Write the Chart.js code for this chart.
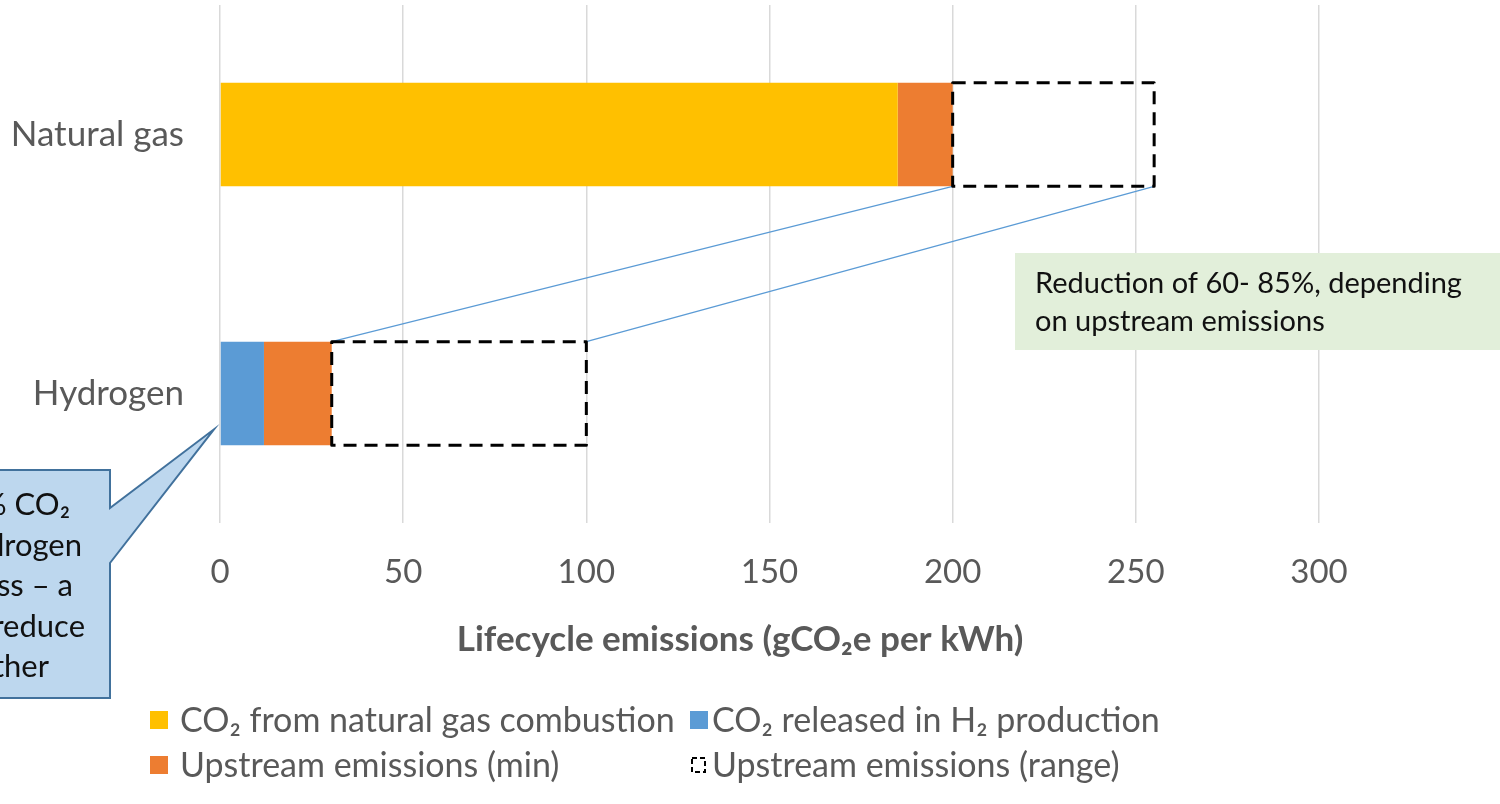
<!DOCTYPE html>
<html>
<head>
<meta charset="utf-8">
<script src="https://cdn.jsdelivr.net/npm/chart.js@4"></script>
<style>
  html, body { margin: 0; padding: 0; background: #fff; overflow: hidden; }
  #wrap { position: relative; width: 1500px; height: 804px; }
</style>
</head>
<body>
<div id="wrap"><canvas id="chartEmisi"></canvas></div>
<script>
const categories = ['Natural gas', 'Hydrogen'];
const gasCombustion = [185, null];
const h2Production = [null, 12];
const upstreamMin = [15, 18.5];
const upstreamRange = [55, 69.5];
const xMin = 0, xMax = 300, xStep = 50;

const seriesNames = [
  'CO₂ from natural gas combustion',
  'CO₂ released in H₂ production',
  'Upstream emissions (min)',
  'Upstream emissions (range)'
];

const FONT = "Lato, 'Open Sans', sans-serif";
const GREY = '#595959';

// dashed boxes, connector lines, callouts, axis title and legend
const extras = {
  id: 'extras',
  afterDatasetsDraw(chart) {
    const ctx = chart.ctx;
    const rangeBars = chart.getDatasetMeta(3).data.map(el =>
      el.getProps(['x', 'y', 'base', 'height'], true));

    // connector lines natural gas -> hydrogen
    const a = rangeBars[0], b = rangeBars[1];
    ctx.save();
    ctx.strokeStyle = '#5B9BD5';
    ctx.lineWidth = 1.2;
    ctx.beginPath();
    ctx.moveTo(a.base, a.y + a.height / 2);
    ctx.lineTo(b.base, b.y - b.height / 2);
    ctx.moveTo(a.x, a.y + a.height / 2);
    ctx.lineTo(b.x, b.y - b.height / 2);
    ctx.stroke();
    ctx.restore();

    // dashed outline of range
    ctx.save();
    ctx.strokeStyle = '#000';
    ctx.lineWidth = 3;
    ctx.lineJoin = 'round';
    ctx.setLineDash([13, 8]);
    rangeBars.forEach(r => {
      ctx.strokeRect(r.base, r.y - r.height / 2, r.x - r.base, r.height);
    });
    ctx.restore();
  },
  afterDraw(chart) {
    const ctx = chart.ctx;
    const xs = chart.scales.x;
    const h2Bar = chart.getDatasetMeta(1).data[1].getProps(['y', 'height'], true);

    // axis title
    ctx.save();
    ctx.fillStyle = GREY;
    ctx.font = 'bold 35px ' + FONT;
    ctx.textAlign = 'center';
    ctx.textBaseline = 'middle';
    ctx.fillText('Lifecycle emissions (gCO₂e per kWh)', 740, 640);
    ctx.restore();

    // legend in two columns
    ctx.save();
    ctx.font = '34px ' + FONT;
    ctx.textBaseline = 'middle';
    ctx.fillStyle = GREY;
    const cols = [150, 690], rows = [720, 765];
    chart.data.datasets.forEach((ds, i) => {
      const x = cols[i % 2], y = rows[Math.floor(i / 2)];
      if (ds.backgroundColor === 'transparent') {
        ctx.save();
        ctx.strokeStyle = '#000';
        ctx.lineWidth = 2;
        ctx.setLineDash([5, 3]);
        ctx.strokeRect(x + 2, y - 7, 13, 14);
        ctx.restore();
      } else {
        ctx.fillStyle = ds.backgroundColor;
        ctx.fillRect(x, y - 9, 18, 18);
      }
      ctx.fillStyle = GREY;
      ctx.fillText(ds.label, x + (i % 2 ? 22 : 30), y + 1);
    });
    ctx.restore();

    // green note
    ctx.save();
    ctx.fillStyle = '#E2EFDA';
    ctx.fillRect(1015, 253, 500, 97);
    ctx.fillStyle = '#111';
    ctx.font = '29px ' + FONT;
    ctx.textBaseline = 'middle';
    ctx.fillText('Reduction of 60- 85%, depending', 1035, 284);
    ctx.fillText('on upstream emissions', 1035, 322);
    ctx.restore();

    // blue callout pointing at hydrogen bar
    const tipX = xs.getPixelForValue(0) - 6;
    const tipY = h2Bar.y + h2Bar.height / 2 - 16;
    ctx.save();
    ctx.fillStyle = '#BDD7EE';
    ctx.strokeStyle = '#41719C';
    ctx.lineWidth = 2;
    ctx.beginPath();
    ctx.moveTo(-10, 470);
    ctx.lineTo(110, 470);
    ctx.lineTo(110, 508);
    ctx.lineTo(tipX, tipY);
    ctx.lineTo(110, 563);
    ctx.lineTo(110, 698);
    ctx.lineTo(-10, 698);
    ctx.closePath();
    ctx.fill();
    ctx.stroke();
    ctx.fillStyle = '#111';
    ctx.font = '31px ' + FONT;
    ctx.textAlign = 'right';
    ctx.textBaseline = 'middle';
    const lines = [
      ['Capture of 90% CO₂', 70],
      ['produced in hydrogen', 82],
      ['production process – a', 73],
      ['way to reduce', 85],
      ['emissions further', 49]
    ];
    lines.forEach((l, i) => ctx.fillText(l[0], l[1], 505 + i * 40.5));
    ctx.restore();
  }
};

new Chart(document.getElementById('chartEmisi'), {
  type: 'bar',
  data: {
    labels: categories,
    datasets: [
      { label: seriesNames[0], data: gasCombustion, backgroundColor: '#FFC000' },
      { label: seriesNames[1], data: h2Production, backgroundColor: '#5B9BD5' },
      { label: seriesNames[2], data: upstreamMin, backgroundColor: '#ED7D31' },
      { label: seriesNames[3], data: upstreamRange, backgroundColor: 'transparent' }
    ]
  },
  options: {
    indexAxis: 'y',
    responsive: true,
    maintainAspectRatio: false,
    animation: false,
    barPercentage: 0.4,
    categoryPercentage: 1,
    layout: { padding: { top: 5, right: 181, bottom: 0, left: 0 } },
    plugins: {
      legend: { display: false },
      tooltip: { enabled: false }
    },
    scales: {
      x: {
        stacked: true,
        min: xMin,
        max: xMax,
        ticks: { stepSize: xStep, color: GREY, font: { family: FONT, size: 33 }, padding: 30 },
        grid: { color: '#D9D9D9', lineWidth: 1.5, drawTicks: false },
        border: { display: false },
        afterFit(scale) { scale.height = 281; }
      },
      y: {
        stacked: true,
        ticks: { color: GREY, font: { family: FONT, size: 35 }, padding: 36 },
        grid: { display: false, drawTicks: false },
        border: { display: false },
        afterFit(scale) {
          scale.width = 220;
          scale.paddingTop = 0;
          scale.paddingBottom = 0;
        }
      }
    }
  },
  plugins: [extras]
});
</script>
</body>
</html>
